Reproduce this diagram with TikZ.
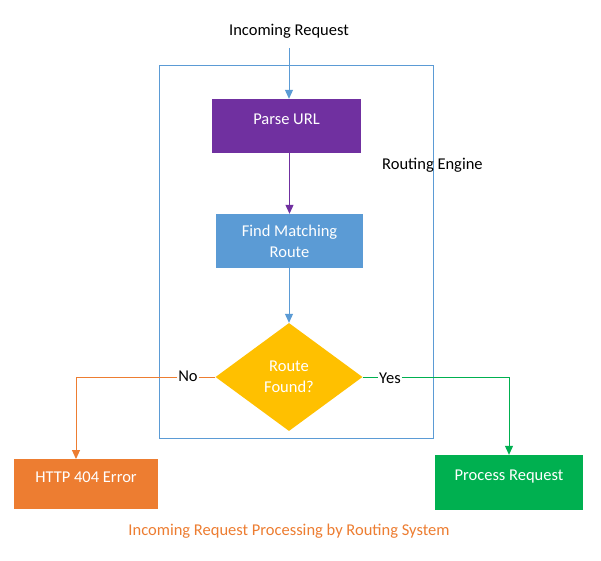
\documentclass[tikz,border=0pt]{standalone}
\usepackage{fontspec}
\setmainfont{Carlito}
\usepackage{tikz}
\usetikzlibrary{arrows.meta}
\usetikzlibrary{shapes.geometric}
\usetikzlibrary{positioning}
\definecolor{cpurple}{HTML}{7030A0}
\definecolor{cblue}{HTML}{5B9BD5}
\definecolor{cgold}{HTML}{FFC000}
\definecolor{corange}{HTML}{ED7D31}
\definecolor{cgreen}{HTML}{00B050}
\tikzset{stepbox/.style={rectangle,draw=none,text=white,inner sep=0pt,align=center,font=\fontsize{16.5}{21}\selectfont}}
\tikzset{raised/.style={text depth=14pt}}
\tikzset{decision/.style={diamond,fill=cgold,text=white,inner sep=0pt,align=center,minimum width=147pt,minimum height=108pt,font=\fontsize{16.5}{21}\selectfont}}
\tikzset{plain/.style={inner sep=1pt,font=\fontsize{16.5}{20}\selectfont}}
\tikzset{flow/.style={line width=1pt,-{Triangle[width=8pt,length=9pt]}}}

\begin{document}
\begin{tikzpicture}[x=1pt,y=-1pt]
  % page
  \fill[white] (0,0) rectangle (601,560);
  \useasboundingbox (0,0) rectangle (601,560);

  % routing engine frame
  \draw[cblue,line width=1pt] (159,65) rectangle (433,438);
  \node[plain,anchor=west] (engine) at (381,165) {Routing Engine};

  % steps
  \node[plain] (incoming) at (289,31) {Incoming Request};
  \node[stepbox,raised,fill=cpurple,minimum width=149pt,minimum height=54pt] (parse) at (286.5,126) {Parse URL};
  \node[stepbox,fill=cblue,minimum width=147pt,minimum height=54pt] (find) at (289.5,241) {Find Matching\\Route};
  \node[decision] (found) at (289,377) {Route\\Found?};
  \node[stepbox,raised,fill=corange,minimum width=144pt,minimum height=50pt] (error) at (86,484) {HTTP 404 Error};
  \node[stepbox,raised,fill=cgreen,minimum width=148pt,minimum height=55pt] (process) at (509,482.5) {Process Request};

  % branch labels
  \node[plain] (no) at (188,376) {No};
  \node[plain] (yes) at (390,378) {Yes};

  % caption
  \node[plain,text=corange] (caption) at (289,531) {Incoming Request Processing by Routing System};

  % connectors
  \coordinate (entry) at (289,48);
  \coordinate (errtop) at (76,459);
  \draw[flow,cblue] (entry) -- (entry |- parse.north);
  \draw[flow,cpurple] (parse.south -| find.north) -- (find.north);
  \draw[flow,cblue] (find.south -| found.north) -- (found.north);
  \draw[corange,line width=1pt] (found.west) -- (no.east |- found.west);
  \draw[flow,corange] (no.west |- found.west) -| (errtop);
  \draw[cgreen,line width=1pt] (found.east) -- (yes.west |- found.east);
  \draw[flow,cgreen] (yes.east |- found.east) -| (process.north);
\end{tikzpicture}
\end{document}
